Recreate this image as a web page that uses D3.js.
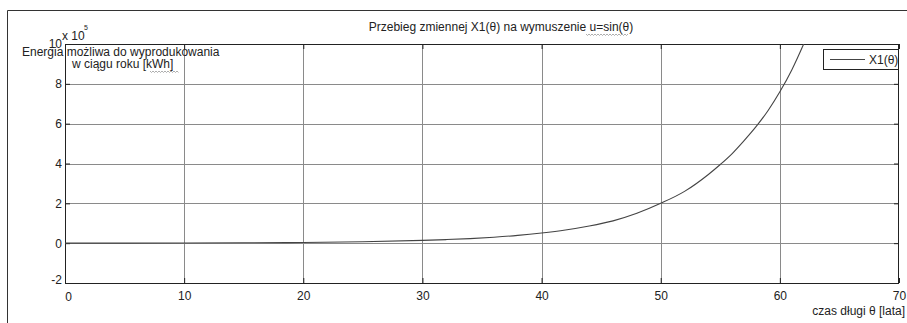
<!DOCTYPE html>
<html>
<head>
<meta charset="utf-8">
<script src="https://cdn.jsdelivr.net/npm/d3@7"></script>
<style>
  body { margin: 0; background: #fff; }
  svg { display: block; font-family: "Liberation Sans", Arial, sans-serif; }
</style>
</head>
<body>
<svg id="chart" width="907" height="323"></svg>
<script>
// theta [lata] and X1 values (in units of 1e5 kWh)
const theta = [0, 5, 10, 15, 20, 25, 30, 32, 34, 36, 38, 40, 42, 44, 46, 48, 50, 52, 54, 55, 56, 57, 58, 59, 60, 61, 62, 62.5];
const x1 = [0, 0.002, 0.008, 0.018, 0.035, 0.07, 0.14, 0.18, 0.23, 0.3, 0.39, 0.51, 0.66, 0.86, 1.12, 1.5, 2.0, 2.6, 3.45, 3.95, 4.5, 5.15, 5.85, 6.65, 7.6, 8.7, 10.0, 10.7];

const xTicks = [0, 10, 20, 30, 40, 50, 60, 70];
const yTicks = [-2, 0, 2, 4, 6, 8, 10];

const titleText = "Przebieg zmiennej X1(θ) na wymuszenie u=sin(θ)";
const xLabel = "czas długi θ [lata]";
const yLabel1 = "Energia możliwa do wyprodukowania";
const yLabel2 = "w ciągu roku [kWh]";
const legendName = "X1(θ)";

const margin = {top: 44, right: 8, bottom: 40, left: 65};
const width = 907, height = 323;
const fs = 12;

const svg = d3.select("#chart");

// outer figure frame
svg.append("path")
    .attr("d", `M7.5,${height} V10.5 H${width}`)
    .attr("fill", "none")
    .attr("stroke", "#333")
    .attr("stroke-width", 1);

const x = d3.scaleLinear().domain([0, 70]).range([margin.left, width - margin.right]);
const y = d3.scaleLinear().domain([-2, 10]).range([height - margin.bottom, margin.top]);

const plotL = x(0), plotR = x(70), plotT = y(10), plotB = y(-2);

// grid
const grid = svg.append("g").attr("stroke", "#8a8a8a").attr("stroke-width", 1);
grid.selectAll("line.gx")
    .data(xTicks.slice(1, -1))
    .join("line")
    .attr("x1", d => Math.round(x(d)) + 0.5).attr("x2", d => Math.round(x(d)) + 0.5)
    .attr("y1", plotT).attr("y2", plotB);
grid.selectAll("line.gy")
    .data(yTicks.slice(1, -1))
    .join("line")
    .attr("y1", d => Math.round(y(d)) + 0.5).attr("y2", d => Math.round(y(d)) + 0.5)
    .attr("x1", plotL).attr("x2", plotR);

const fmt = d => String(d).replace("−", "-");

// axes with inward ticks
const xAxis = svg.append("g")
    .attr("transform", `translate(0,${plotB})`)
    .call(d3.axisBottom(x).tickValues(xTicks).tickSize(-5).tickPadding(8).tickFormat(fmt));
const yAxis = svg.append("g")
    .attr("transform", `translate(${plotL},0)`)
    .call(d3.axisLeft(y).tickValues(yTicks).tickSize(-5).tickPadding(3).tickFormat(fmt));
const yAxisR = svg.append("g")
    .attr("transform", `translate(${plotR},0)`)
    .call(d3.axisRight(y).tickValues(yTicks).tickSize(-5).tickFormat(""));
const xAxisT = svg.append("g")
    .attr("transform", `translate(0,${plotT})`)
    .call(d3.axisTop(x).tickValues(xTicks).tickSize(-5).tickFormat(""));

[xAxis, yAxis, yAxisR, xAxisT].forEach(g => {
    g.select(".domain").remove();
    g.selectAll(".tick line").attr("stroke", "#222");
    g.selectAll("text").attr("font-size", fs).attr("fill", "#222")
        .attr("font-family", "Liberation Sans, Arial, sans-serif");
});
xAxis.selectAll(".tick text").filter(d => d === 0).attr("dx", 3).attr("dy", "0.85em");
yAxis.selectAll(".tick text").filter(d => d === -2).attr("dy", "0.05em");

// plot box
svg.append("rect")
    .attr("x", plotL + 0.5).attr("y", plotT + 0.5)
    .attr("width", plotR - plotL - 1).attr("height", plotB - plotT)
    .attr("fill", "none").attr("stroke", "#222").attr("stroke-width", 1);

// curve
svg.append("clipPath").attr("id", "clip")
    .append("rect").attr("x", plotL).attr("y", plotT).attr("width", plotR - plotL).attr("height", plotB - plotT);

const line = d3.line()
    .x((d, i) => x(theta[i]))
    .y(d => y(d))
    .curve(d3.curveMonotoneX);

svg.append("path")
    .datum(x1)
    .attr("clip-path", "url(#clip)")
    .attr("d", line)
    .attr("fill", "none")
    .attr("stroke", "#444")
    .attr("stroke-width", 1.1);

// title
svg.append("text")
    .attr("x", 501).attr("y", 31)
    .attr("text-anchor", "middle")
    .attr("font-size", fs).attr("fill", "#222")
    .text(titleText);

// squiggle helper (spell-check underline)
function squiggle(x0, x1, yy) {
    let d = `M${x0},${yy}`;
    for (let xx = x0, k = 0; xx < x1; xx += 1.5, k++) {
        d += ` L${xx + 1.5},${yy + (k % 2 ? 0 : 1.5)}`;
    }
    svg.append("path").attr("d", d).attr("fill", "none").attr("stroke", "#999").attr("stroke-width", 0.8);
}
squiggle(586, 628, 34);

// exponent label
svg.append("text").attr("x", 62).attr("y", 40).attr("font-size", fs).attr("fill", "#222").text("x 10");
svg.append("text").attr("x", 84).attr("y", 30).attr("font-size", 7).attr("fill", "#222").text("5");

// y label
svg.append("text").attr("x", 22).attr("y", 56).attr("font-size", fs).attr("fill", "#222").text(yLabel1);
svg.append("text").attr("x", 72).attr("y", 68).attr("font-size", fs).attr("fill", "#222").text(yLabel2);
squiggle(150, 178, 71);

// x label
svg.append("text").attr("x", 905).attr("y", 315)
    .attr("text-anchor", "end")
    .attr("font-size", fs).attr("fill", "#222")
    .text(xLabel);

// legend
const leg = svg.append("g");
leg.append("rect")
    .attr("x", 823.5).attr("y", 49.5).attr("width", 75).attr("height", 20)
    .attr("fill", "#fff").attr("stroke", "#222");
leg.append("line")
    .attr("x1", 830).attr("x2", 865).attr("y1", 59.5).attr("y2", 59.5)
    .attr("stroke", "#444").attr("stroke-width", 1.1);
leg.append("text")
    .attr("x", 869).attr("y", 64)
    .attr("font-size", fs).attr("fill", "#222")
    .text(legendName);
</script>
</body>
</html>
